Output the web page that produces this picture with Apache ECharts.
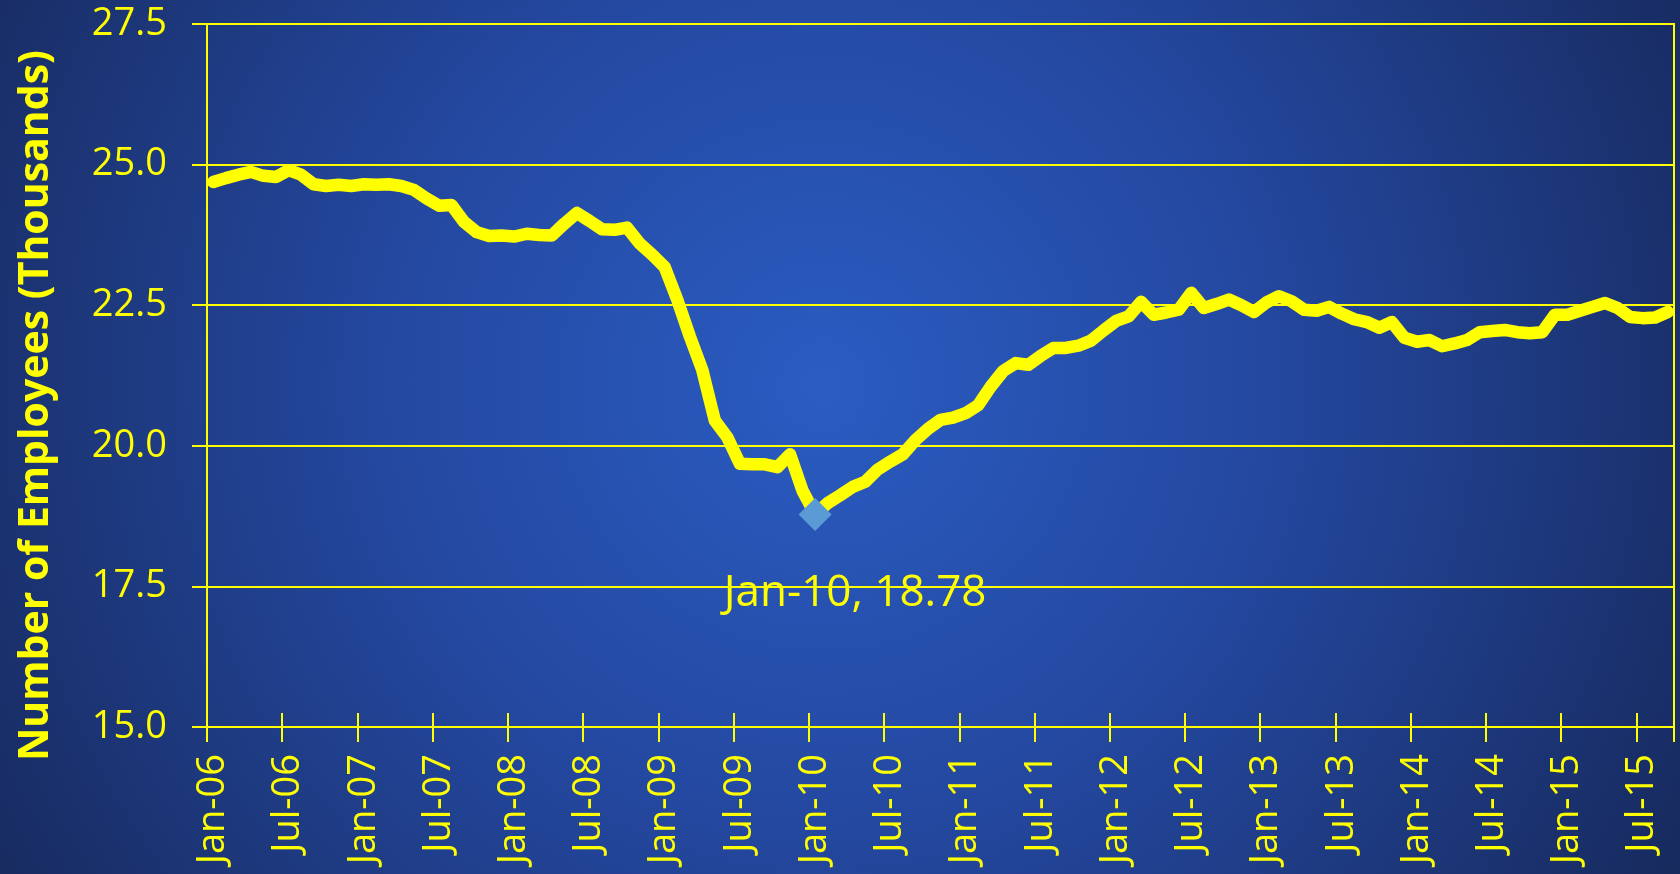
<!DOCTYPE html>
<html>
<head>
<meta charset="utf-8">
<title>Number of Employees</title>
<script src="https://cdn.jsdelivr.net/npm/echarts@6/dist/echarts.min.js"></script>
<style>
  html, body { margin: 0; padding: 0; background: #1b3270; }
  #main { width: 1680px; height: 874px; }
</style>
</head>
<body>
<div id="main"></div>
<script>
// month names and years used for the category labels (Jan-06 ... Sep-15)
var monthNames = ['Jan', 'Feb', 'Mar', 'Apr', 'May', 'Jun', 'Jul', 'Aug', 'Sep', 'Oct', 'Nov', 'Dec'];
var years = ['06', '07', '08', '09', '10', '11', '12', '13', '14', '15'];

// employees, thousands, one value per month from Jan-06
var employees = [
  24.69, 24.76, 24.82, 24.87, 24.80, 24.78, 24.90, 24.82, 24.65, 24.62, 24.64, 24.62, // 2006
  24.65, 24.64, 24.65, 24.62, 24.55, 24.40, 24.27, 24.28, 23.98, 23.80, 23.73, 23.74, // 2007
  23.72, 23.77, 23.75, 23.74, 23.95, 24.14, 24.00, 23.85, 23.84, 23.88, 23.60, 23.40, // 2008
  23.18, 22.60, 21.95, 21.35, 20.45, 20.15, 19.68, 19.67, 19.67, 19.62, 19.85, 19.20, // 2009
  18.78, 18.98, 19.12, 19.27, 19.36, 19.58, 19.72, 19.85, 20.10, 20.30, 20.46, 20.50, // 2010
  20.58, 20.72, 21.05, 21.33, 21.47, 21.44, 21.60, 21.74, 21.74, 21.78, 21.87, 22.05, // 2011
  22.22, 22.30, 22.56, 22.33, 22.37, 22.42, 22.72, 22.45, 22.52, 22.60, 22.50, 22.38, // 2012
  22.55, 22.66, 22.57, 22.42, 22.40, 22.47, 22.35, 22.25, 22.20, 22.10, 22.20, 21.92, // 2013
  21.85, 21.88, 21.77, 21.82, 21.88, 22.02, 22.04, 22.06, 22.02, 22.00, 22.02, 22.33, // 2014
  22.33, 22.40, 22.47, 22.54, 22.45, 22.29, 22.27, 22.28, 22.38                      // 2015
];

var yTicks = [15.0, 17.5, 20.0, 22.5, 25.0, 27.5];
var markIndex = 48; // Jan-10, the low point

var months = [];
years.forEach(function (y) {
  monthNames.forEach(function (m) {
    if (months.length < employees.length) {
      months.push(m + '-' + y);
    }
  });
});

var YELLOW = '#ffff00';
var FONT = '"Open Sans", "Liberation Sans", sans-serif';

var myChart = echarts.init(document.getElementById('main'));
var option = {
  animation: false,
  backgroundColor: {
    type: 'radial',
    x: 0.49,
    y: 0.44,
    r: 1.12,
    colorStops: [
      { offset: 0, color: '#2a5cc2' },
      { offset: 0.45, color: '#2448a0' },
      { offset: 1, color: '#172a5e' }
    ]
  },
  grid: {
    left: 207,
    right: 6,
    top: 24,
    bottom: 147,
    show: true,
    backgroundColor: 'transparent',
    borderColor: YELLOW,
    borderWidth: 2
  },
  xAxis: [{
    type: 'category',
    data: months,
    position: 'bottom',
    boundaryGap: true,
    axisLine: { show: true, lineStyle: { color: YELLOW, width: 2 } },
    axisTick: { show: true, interval: 5, length: 15, lineStyle: { color: YELLOW, width: 2 } },
    axisLabel: {
      interval: 5,
      rotate: 90,
      margin: 27,
      color: YELLOW,
      fontSize: 38,
      fontFamily: FONT
    },
    splitLine: { show: false }
  }, {
    // inner half of the crossing ticks
    type: 'category',
    data: months,
    position: 'bottom',
    boundaryGap: true,
    axisLine: { show: false },
    axisTick: { show: true, inside: true, interval: 5, length: 14, lineStyle: { color: YELLOW, width: 2 } },
    axisLabel: { show: false },
    splitLine: { show: false }
  }],
  yAxis: {
    type: 'value',
    min: yTicks[0],
    max: yTicks[yTicks.length - 1],
    interval: 2.5,
    name: 'Number of Employees (Thousands)',
    nameLocation: 'middle',
    nameRotate: 90,
    nameGap: 150,
    nameTextStyle: {
      color: YELLOW,
      fontSize: 41,
      fontWeight: 'bold',
      fontFamily: FONT,
      padding: [0, 60, 0, 0]
    },
    axisLine: { show: true, lineStyle: { color: YELLOW, width: 2 } },
    axisTick: { show: true, length: 15, lineStyle: { color: YELLOW, width: 2 } },
    axisLabel: {
      margin: 40,
      color: YELLOW,
      fontSize: 38,
      fontFamily: FONT,
      formatter: function (v) { return v.toFixed(1); }
    },
    splitLine: { show: true, lineStyle: { color: YELLOW, width: 2 } }
  },
  series: [{
    type: 'line',
    data: employees,
    symbol: 'none',
    lineStyle: { color: YELLOW, width: 12.5, cap: 'round', join: 'round' },
    markPoint: {
      symbol: 'diamond',
      symbolSize: 33,
      itemStyle: { color: '#5b9bd5' },
      label: {
        show: true,
        position: 'inside',
        offset: [40, 79],
        color: YELLOW,
        fontSize: 44,
        fontFamily: FONT,
        formatter: function (p) { return months[markIndex] + ', ' + employees[markIndex].toFixed(2); }
      },
      data: [{ coord: [markIndex, employees[markIndex]] }]
    }
  }]
};
myChart.setOption(option);
</script>
</body>
</html>
